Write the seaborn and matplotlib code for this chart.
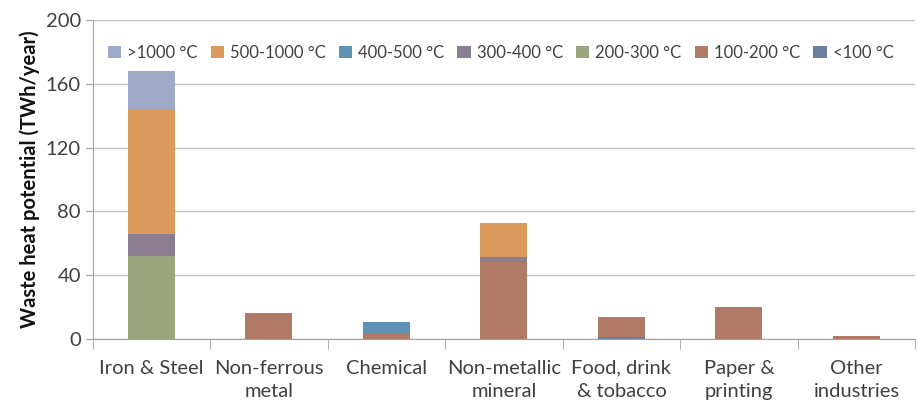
import numpy as np
import pandas as pd
import matplotlib.pyplot as plt
import seaborn as sns

categories = ["Iron & Steel", "Non-ferrous\nmetal", "Chemical", "Non-metallic\nmineral",
              "Food, drink\n& tobacco", "Paper &\nprinting", "Other\nindustries"]

# bottom to top
bands = ["<100 °C", "100-200 °C", "200-300 °C", "300-400 °C", "400-500 °C", "500-1000 °C", ">1000 °C"]
lt100 = [0, 0, 0, 0, 1, 0, 0]
t100_200 = [0, 16, 3, 48, 13, 20, 2]
t200_300 = [52, 0, 0, 0, 0, 0, 0]
t300_400 = [14, 0, 0, 3.5, 0, 0, 0]
t400_500 = [0, 0, 7.5, 0, 0, 0, 0]
t500_1000 = [78, 0, 0, 21.5, 0, 0, 0]
gt1000 = [24, 0, 0, 0, 0, 0, 0]
colors = ["#6A7FA0", "#B07A66", "#9BA57E", "#8B7D91", "#5F93B5", "#DB9B5C", "#9EAAC8"]

series = [lt100, t100_200, t200_300, t300_400, t400_500, t500_1000, gt1000]

sns.set_style("white")
plt.rcParams['font.family'] = ['Lato', 'DejaVu Sans']

fig = plt.figure(figsize=(9.18, 4.04), dpi=100)
ax = fig.add_axes([0.101, 0.161, 0.896, 0.789])

bottom = np.zeros(len(categories))
for name, vals, col in zip(bands, series, colors):
    df = pd.DataFrame({"cat": categories, "val": vals})
    sns.barplot(data=df, x="cat", y="val", ax=ax, color=col, width=0.4,
                bottom=bottom, label=name, saturation=1, linewidth=0)
    bottom = bottom + np.array(vals)

ax.set_ylim(0, 200)
ax.set_xlim(-0.5, len(categories) - 0.5)
ax.set_yticks([0, 40, 80, 120, 160, 200])
ax.yaxis.grid(True, color="#BFBFBF", linewidth=1)
ax.set_axisbelow(True)
ax.set_xlabel("")
ax.set_ylabel("Waste heat potential (TWh/year)", fontsize=14.5, fontweight="bold",
              color="#111111", labelpad=4)
ax.tick_params(axis="y", labelsize=14.5, colors="#404040", length=5, color="#A0A0A0", direction="out", left=True)
ax.set_xticks(np.arange(len(categories)))
ax.set_xticklabels(categories, linespacing=1.45)
ax.tick_params(axis="x", labelsize=14.5, colors="#404040", length=0, pad=15)
ax.set_xticks(np.arange(len(categories) + 1) - 0.5, minor=True)
ax.tick_params(axis="x", which="minor", length=7, color="#A0A0A0", bottom=True)
for s in ["top", "right"]:
    ax.spines[s].set_visible(False)
for s in ["left", "bottom"]:
    ax.spines[s].set_color("#A0A0A0")

h, l = ax.get_legend_handles_labels()
ax.legend(h[::-1], l[::-1], ncol=7, loc="upper left", bbox_to_anchor=(0.0, 0.97),
          frameon=False, fontsize=12, handlelength=0.8, handleheight=0.8,
          handletextpad=0.35, columnspacing=0.8, labelcolor="#404040")

plt.savefig("out.png", dpi=100)
